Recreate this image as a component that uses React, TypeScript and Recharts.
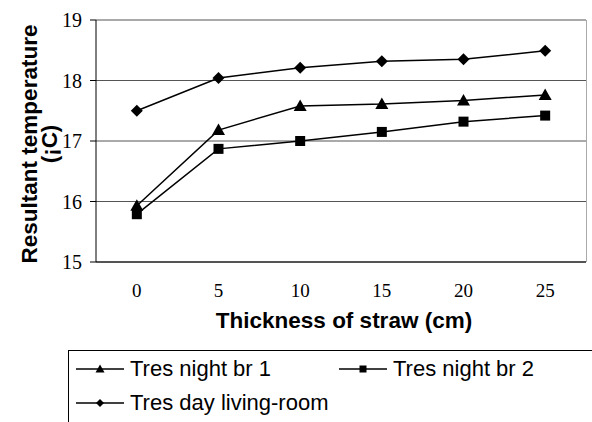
import { LineChart, Line, XAxis, YAxis, CartesianGrid } from 'recharts';

const thickness = [0, 5, 10, 15, 20, 25];
const nightBr1 = [15.93, 17.18, 17.58, 17.61, 17.67, 17.76];
const nightBr2 = [15.79, 16.87, 17.0, 17.15, 17.32, 17.42];
const dayLiving = [17.5, 18.04, 18.21, 18.32, 18.35, 18.49];
const yTicks = [15, 16, 17, 18, 19];
const xBounds = [-2.5, 2.5, 7.5, 12.5, 17.5, 22.5, 27.5];

const data = thickness.map((t, i) => ({
  t,
  br1: nightBr1[i],
  br2: nightBr2[i],
  day: dayLiving[i],
}));

const serif = 'Liberation Serif, DejaVu Serif, serif';
const sans = 'Liberation Sans, Arial, sans-serif';

const Triangle = (p: any) => {
  const s = p.s || 6.5;
  return <path d={`M${p.cx},${p.cy - s} L${p.cx + s},${p.cy + s * 0.77} L${p.cx - s},${p.cy + s * 0.77} Z`} fill="#000" />;
};
const Square = (p: any) => {
  const s = p.s || 5;
  return <rect x={p.cx - s} y={p.cy - s} width={2 * s} height={2 * s} fill="#000" />;
};
const Diamond = (p: any) => {
  const s = p.s || 6;
  return <path d={`M${p.cx},${p.cy - s} L${p.cx + s},${p.cy} L${p.cx},${p.cy + s} L${p.cx - s},${p.cy} Z`} fill="#000" />;
};

const BoundTick = (p: any) => <line x1={p.x} x2={p.x} y1={262} y2={267} stroke="#000" />;

const XTick = (p: any) => (
  <text x={p.x} y={p.y + 35} textAnchor="middle" fontFamily={serif} fontSize={19} fill="#000">
    {p.payload.value}
  </text>
);

const YTick = (p: any) => (
  <text x={p.x} y={p.y + 7} textAnchor="end" fontFamily={serif} fontSize={20} fill="#000">
    {p.payload.value}
  </text>
);

const YTitle = () => {
  const cy = 144;
  return (
    <g fontFamily={sans} fontWeight="bold" fontSize={22.5} fill="#000">
      <text transform={`translate(37,${cy}) rotate(-90)`} textAnchor="middle">
        Resultant temperature
      </text>
      <text transform={`translate(57,${cy}) rotate(-90)`} textAnchor="middle">
        (¡C)
      </text>
    </g>
  );
};

const XTitle = (p: any) => {
  const vb = p.viewBox;
  return (
    <text x={vb.x + vb.width / 2 + 3} y={vb.y + 66} textAnchor="middle" fontFamily={sans} fontWeight="bold" fontSize={22.5} fill="#000">
      Thickness of straw (cm)
    </text>
  );
};

const legendItem = (label: string, Marker: any, size: number) => (
  <div style={{ display: 'flex', alignItems: 'center', height: 34 }}>
    <svg width={54} height={16}>
      <line x1={0} x2={48} y1={8} y2={8} stroke="#000" strokeWidth={1.5} />
      <Marker cx={24} cy={8} s={size} />
    </svg>
    <span>{label}</span>
  </div>
);

export default function App() {
  return (
    <div style={{ position: 'absolute', left: 0, top: 0, width: 592, height: 422, background: '#fff', overflow: 'hidden' }}>
      <LineChart width={592} height={422} data={data} margin={{ top: 20, right: 6, left: 0, bottom: 0 }}>
        <CartesianGrid horizontal vertical={false} stroke="#555" />
        <XAxis
          dataKey="t"
          type="number"
          domain={[-2.5, 27.5]}
          ticks={thickness}
          height={160}
          tickLine={false}
          tickSize={0}
          tickMargin={0}
          stroke="#000"
          tick={<XTick />}
          label={<XTitle />}
        />
        <XAxis
          xAxisId="b"
          dataKey="t"
          type="number"
          domain={[-2.5, 27.5]}
          ticks={xBounds}
          axisLine={false}
          tickLine={false}
          tick={<BoundTick />}
          height={0}
          orientation="bottom"
        />
        <YAxis
          domain={[15, 19]}
          ticks={yTicks}
          width={96}
          tickSize={6}
          tickMargin={8}
          stroke="#000"
          tick={<YTick />}
          label={<YTitle />}
        />
        <Line dataKey="br1" stroke="#000" strokeWidth={1.5} dot={<Triangle />} isAnimationActive={false} />
        <Line dataKey="br2" stroke="#000" strokeWidth={1.5} dot={<Square />} isAnimationActive={false} />
        <Line dataKey="day" stroke="#000" strokeWidth={1.5} dot={<Diamond />} isAnimationActive={false} />
      </LineChart>
      <div style={{ position: 'absolute', left: 586, top: 20, width: 1, height: 242, background: '#aaa' }} />
      <div
        style={{
          position: 'absolute',
          left: 68,
          top: 350,
          width: 600,
          height: 100,
          border: '1px solid #000',
          fontFamily: sans,
          fontSize: 22,
          paddingLeft: 7,
          paddingTop: 1,
          boxSizing: 'border-box',
        }}
      >
        <div style={{ display: 'flex' }}>
          <div style={{ width: 263 }}>{legendItem('Tres night br 1', Triangle, 4.5)}</div>
          {legendItem('Tres night br 2', Square, 3.5)}
        </div>
        {legendItem('Tres day living-room', Diamond, 4)}
      </div>
    </div>
  );
}
